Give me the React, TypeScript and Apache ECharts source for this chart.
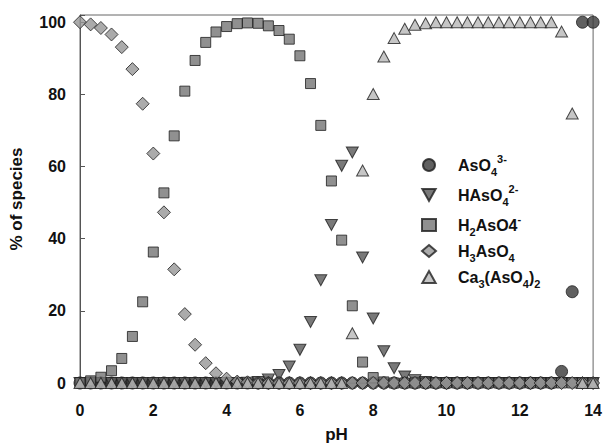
import React, { useEffect, useRef } from "react";
import * as echarts from "echarts";

const pH = [
  0, 0.29, 0.57, 0.86, 1.14, 1.43, 1.71, 2.0, 2.29, 2.57, 2.86, 3.14, 3.43, 3.71, 4.0, 4.29, 4.57,
  4.86, 5.14, 5.43, 5.71, 6.0, 6.29, 6.57, 6.86, 7.14, 7.43, 7.71, 8.0, 8.29, 8.57, 8.86, 9.14,
  9.43, 9.71, 10.0, 10.29, 10.57, 10.86, 11.14, 11.43, 11.71, 12.0, 12.29, 12.57, 12.86, 13.14,
  13.43, 13.71, 14.0,
];

const asO4 = [
  0, 0, 0, 0, 0, 0, 0, 0, 0, 0, 0, 0, 0, 0, 0, 0, 0, 0, 0, 0, 0, 0, 0, 0, 0, 0, 0, 0, 0, 0, 0, 0, 0,
  0, 0, 0, 0, 0, 0, 0, 0, 0, 0, 0, 0, 0, 3.2, 25.3, 100, 100,
];

const hAsO4 = [
  0, 0, 0, 0, 0, 0, 0, 0, 0, 0, 0, 0, 0, 0, 0, 0, 0.1, 0.3, 1.0, 2.2, 4.6, 9.2, 16.9, 28.5, 43.8,
  60.2, 63.9, 34.8, 17.9, 8.8, 4.1, 1.8, 0.8, 0.3, 0, 0, 0, 0, 0, 0, 0, 0, 0, 0, 0, 0, 0, 0, 0, 0,
];

const h2AsO4 = [
  0.1, 0.6, 1.6, 3.4, 6.8, 12.9, 22.5, 36.3, 52.7, 68.5, 80.9, 89.4, 94.4, 97.3, 98.8, 99.6, 99.8,
  99.7, 99.0, 97.7, 95.3, 90.7, 83.0, 71.4, 56.0, 39.6, 21.4, 5.8, 1.5, 0.3, 0, 0, 0, 0, 0, 0, 0, 0,
  0, 0, 0, 0, 0, 0, 0, 0, 0, 0, 0, 0,
];

const h3AsO4 = [
  100, 99.4, 98.4, 96.6, 93.1, 87.0, 77.4, 63.6, 47.3, 31.5, 19.1, 10.6, 5.5, 2.7, 1.2, 0.4, 0.2, 0,
  0, 0, 0, 0, 0, 0, 0, 0, 0, 0, 0, 0, 0, 0, 0, 0, 0, 0, 0, 0, 0, 0, 0, 0, 0, 0, 0, 0, 0, 0, 0, 0,
];

const ca3AsO42 = [
  0, 0, 0, 0, 0, 0, 0, 0, 0, 0, 0, 0, 0, 0, 0, 0, 0, 0, 0, 0, 0, 0, 0, 0, 0, 0, 13.8, 58.9, 80.1,
  90.5, 95.6, 98.2, 99.3, 99.7, 100, 100, 100, 100, 100, 100, 100, 100, 100, 100, 100, 100, 97.4,
  74.7, 0, 0,
];

const xTicks = { min: 0, max: 14, interval: 2 };
const yTicks = { min: 0, max: 102, interval: 20 };

const seriesNames = ["AsO4 3-", "HAsO4 2-", "H2AsO4-", "H3AsO4", "Ca3(AsO4)2"];
const legendRich: Record<string, string> = {
  "AsO4 3-": "{m|AsO}{sub|4}{sup|3-}",
  "HAsO4 2-": "{m|HAsO}{sub|4}{sup|2-}",
  "H2AsO4-": "{m|H}{sub|2}{m|AsO4}{sup|-}",
  "H3AsO4": "{m|H}{sub|3}{m|AsO}{sub|4}",
  "Ca3(AsO4)2": "{m|Ca}{sub|3}{m|(AsO}{sub|4}{m|)}{sub|2}",
};

const FONT = "'Liberation Sans', Arial, sans-serif";

export default function App() {
  const ref = useRef<HTMLDivElement>(null);
  useEffect(() => {
    if (!ref.current) return;
    const chart = echarts.init(ref.current, undefined, { renderer: "svg" });
    const mk = (vals: number[]) => pH.map((x, i) => [x, vals[i]]);
    const border = { borderColor: "#1e1e1e", borderWidth: 1 };
    chart.setOption({
      animation: false,
      backgroundColor: "#fff",
      grid: {
        left: 80,
        right: 11,
        top: 15,
        bottom: 63,
        show: true,
        borderColor: "#666",
        borderWidth: 1,
      },
      legend: {
        orient: "vertical",
        left: 416,
        top: 148,
        itemWidth: 14,
        itemHeight: 12,
        itemGap: 6,
        data: seriesNames,
        formatter: (name: string) => legendRich[name] || name,
        textStyle: {
          padding: [0, 0, 0, 17],
          rich: {
            m: {
              fontSize: 16,
              fontWeight: "bold",
              fontFamily: FONT,
              color: "#111",
              lineHeight: 24,
              verticalAlign: "middle",
            },
            sub: {
              fontSize: 11,
              fontWeight: "bold",
              fontFamily: FONT,
              color: "#111",
              verticalAlign: "bottom",
            },
            sup: {
              fontSize: 11,
              fontWeight: "bold",
              fontFamily: FONT,
              color: "#111",
              verticalAlign: "top",
            },
          },
        },
      },
      xAxis: {
        type: "value",
        ...xTicks,
        name: "pH",
        nameLocation: "middle",
        nameGap: 43,
        nameTextStyle: { fontSize: 17, fontWeight: "bold", fontFamily: FONT, color: "#111" },
        axisLine: { show: true, lineStyle: { color: "#555", width: 1 } },
        axisTick: { show: true, inside: true, length: 5, lineStyle: { color: "#555" } },
        axisLabel: {
          margin: 19,
          fontSize: 16,
          fontWeight: "bold",
          fontFamily: FONT,
          color: "#111",
        },
        splitLine: { show: false },
      },
      yAxis: {
        type: "value",
        ...yTicks,
        name: "% of species",
        nameLocation: "middle",
        nameGap: 55,
        nameRotate: 90,
        nameTextStyle: { fontSize: 17, fontWeight: "bold", fontFamily: FONT, color: "#111" },
        axisLine: { show: true, lineStyle: { color: "#555", width: 1 } },
        axisTick: { show: true, inside: true, length: 5, lineStyle: { color: "#555" } },
        axisLabel: {
          margin: 14,
          fontSize: 16,
          fontWeight: "bold",
          fontFamily: FONT,
          color: "#111",
          formatter: (v: number) => (v % 20 === 0 ? String(v) : ""),
        },
        splitLine: { show: false },
      },
      series: [
        {
          name: seriesNames[0],
          type: "scatter",
          data: mk(asO4),
          symbol: "circle",
          symbolSize: 12,
          itemStyle: { color: "#383838", ...border },
        },
        {
          name: seriesNames[1],
          type: "scatter",
          data: mk(hAsO4),
          symbol: "path://M0,0L10,0L5,9Z",
          symbolSize: [12, 11],
          itemStyle: { color: "#575757", ...border },
        },
        {
          name: seriesNames[2],
          type: "scatter",
          data: mk(h2AsO4),
          symbol: "rect",
          symbolSize: 10,
          itemStyle: { color: "#747474", ...border },
        },
        {
          name: seriesNames[3],
          type: "scatter",
          data: mk(h3AsO4),
          symbol: "diamond",
          symbolSize: 13,
          itemStyle: { color: "#969696", ...border },
        },
        {
          name: seriesNames[4],
          type: "scatter",
          data: mk(ca3AsO42),
          symbol: "path://M5,0L10,9L0,9Z",
          symbolSize: [12, 11],
          itemStyle: { color: "#b8b8b8", ...border },
        },
      ],
    });
    return () => chart.dispose();
  }, []);
  return (
    <div
      ref={ref}
      style={{ position: "absolute", left: 0, top: 0, width: 605, height: 448 }}
    />
  );
}
